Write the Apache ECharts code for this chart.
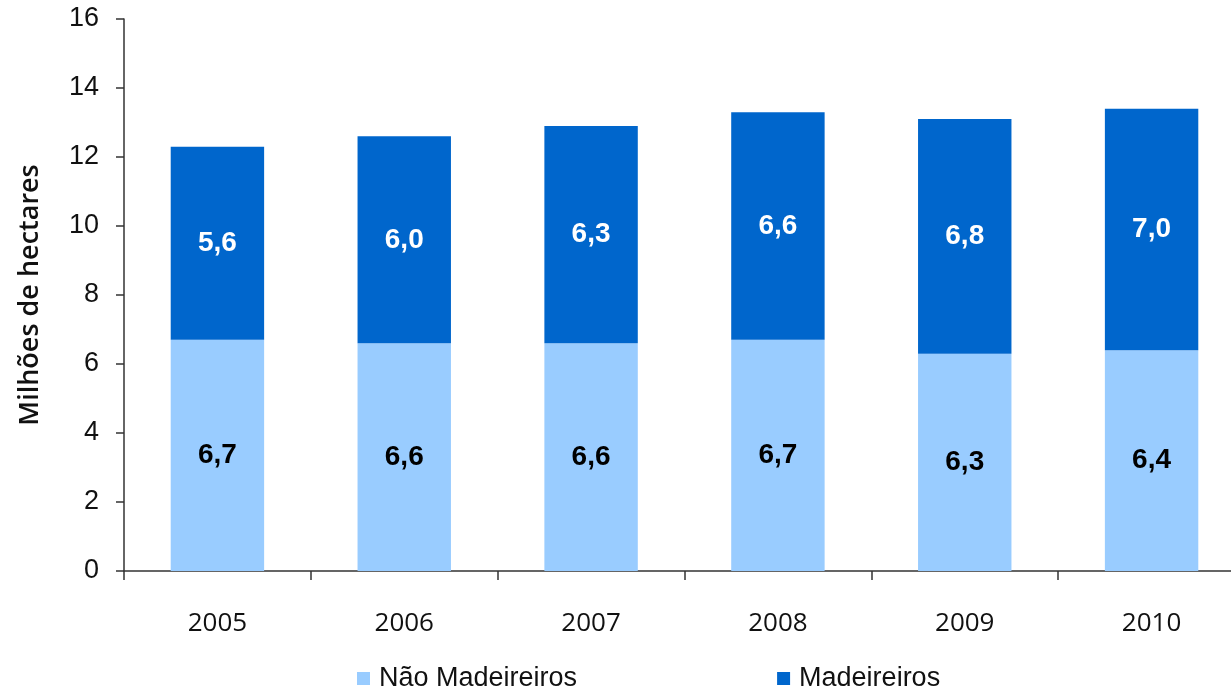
<!DOCTYPE html>
<html>
<head>
<meta charset="utf-8">
<script src="https://cdn.jsdelivr.net/npm/echarts@6/dist/echarts.min.js"></script>
<style>
  html, body { margin: 0; padding: 0; background: #fff; }
  #chart { width: 1231px; height: 691px; }
</style>
</head>
<body>
<div id="chart"></div>
<script>
// data
var years = ["2005", "2006", "2007", "2008", "2009", "2010"];
var naoMadeireiros = [6.7, 6.6, 6.6, 6.7, 6.3, 6.4];
var madeireiros = [5.6, 6.0, 6.3, 6.6, 6.8, 7.0];
var yTicks = [0, 2, 4, 6, 8, 10, 12, 14, 16];

var chartDom = document.getElementById("chart");
var myChart = echarts.init(chartDom, null, { renderer: "canvas" });

function fmt(p) {
  return p.value.toFixed(1).replace(".", ",");
}

var option = {
  animation: false,
  grid: {
    left: 124,
    top: 19,
    width: 1121,
    height: 552,
    outerBoundsMode: "none",
    containLabel: false
  },
  legend: {
    top: 660,
    left: 352,
    itemWidth: 13,
    itemHeight: 13,
    itemGap: 200,
    icon: "rect",
    textStyle: {
      fontFamily: "Liberation Sans, Arial, sans-serif",
      fontSize: 27,
      color: "#111",
      padding: [0, 0, 0, 4]
    },
    data: ["Não Madeireiros", "Madeireiros"]
  },
  xAxis: {
    type: "category",
    data: years,
    axisLine: { lineStyle: { color: "#333", width: 1.5 } },
    axisTick: { show: true, length: 9, lineStyle: { color: "#333", width: 1.5 } },
    axisLabel: {
      margin: 40,
      fontFamily: "Open Sans, sans-serif",
      fontSize: 26,
      color: "#111"
    }
  },
  yAxis: {
    type: "value",
    min: yTicks[0],
    max: yTicks[yTicks.length - 1],
    interval: 2,
    name: "Milhões de hectares",
    nameLocation: "middle",
    nameGap: 80,
    nameTextStyle: {
      fontFamily: "Open Sans, sans-serif",
      fontSize: 27,
      fontWeight: 600,
      color: "#111"
    },
    splitLine: { show: false },
    axisLine: { show: true, lineStyle: { color: "#333", width: 1.5 } },
    axisTick: { show: true, length: 8, lineStyle: { color: "#333", width: 1.5 } },
    axisLabel: {
      margin: 25,
      fontFamily: "Liberation Sans, Arial, sans-serif",
      fontSize: 27,
      color: "#111"
    }
  },
  series: [
    {
      name: "Não Madeireiros",
      type: "bar",
      stack: "total",
      barWidth: "50%",
      data: naoMadeireiros,
      itemStyle: { color: "#99CCFF" },
      label: {
        show: true,
        position: "inside",
        formatter: fmt,
        fontFamily: "Liberation Sans, Arial, sans-serif",
        fontWeight: "bold",
        fontSize: 28,
        color: "#000"
      }
    },
    {
      name: "Madeireiros",
      type: "bar",
      stack: "total",
      barWidth: "50%",
      data: madeireiros,
      itemStyle: { color: "#0066CC" },
      label: {
        show: true,
        position: "inside",
        formatter: fmt,
        fontFamily: "Liberation Sans, Arial, sans-serif",
        fontWeight: "bold",
        fontSize: 28,
        color: "#fff"
      }
    }
  ]
};

myChart.setOption(option);
</script>
</body>
</html>
